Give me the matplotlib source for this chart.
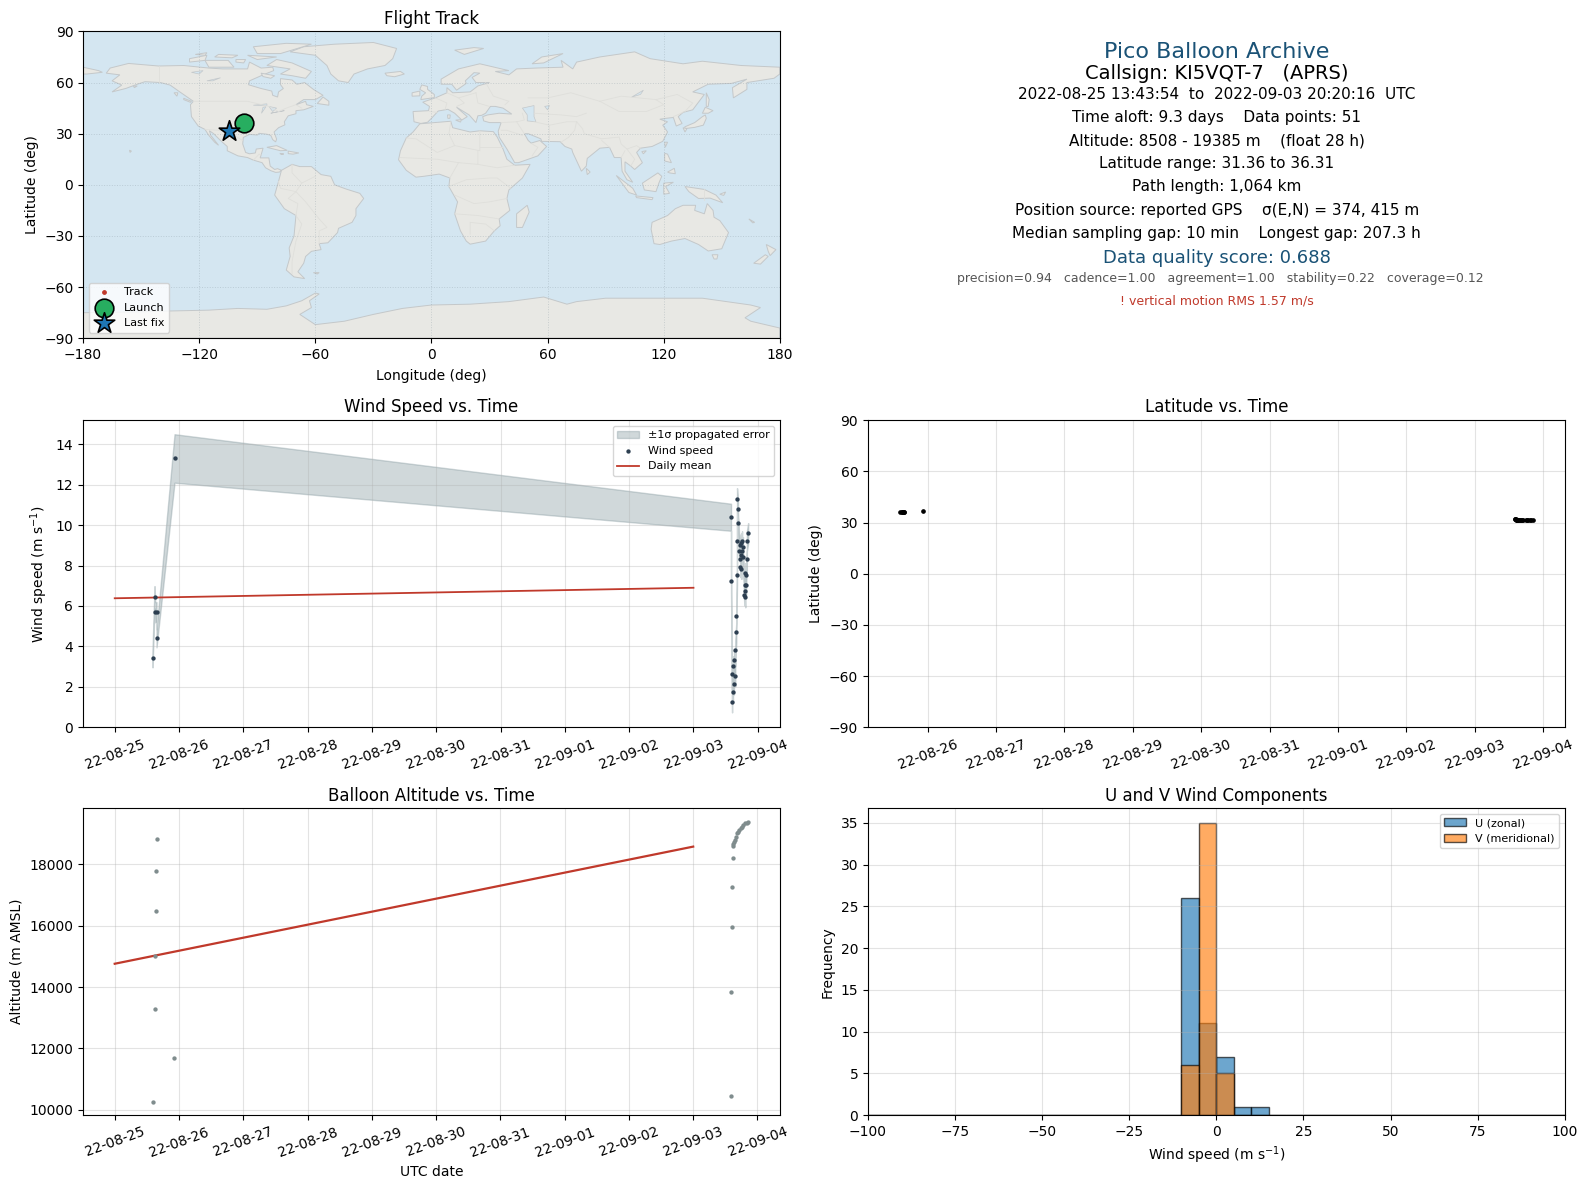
import numpy as np
import pandas as pd
import matplotlib
matplotlib.use('Agg')
import matplotlib.dates as mdates
from matplotlib import pyplot as plt

# wind samples, days since 2022-08-25 00:00
wind_days = [0.588, 0.619, 0.63, 0.65, 0.65, 0.93,
             9.584, 9.584, 9.6, 9.6, 9.615, 9.615, 9.63, 9.63, 9.65, 9.65, 9.666, 9.666,
             9.677, 9.677, 9.677, 9.692, 9.692, 9.715, 9.72, 9.73, 9.73, 9.745, 9.745, 9.745,
             9.755, 9.755, 9.77, 9.77, 9.79, 9.795, 9.805, 9.805, 9.805, 9.82, 9.82, 9.83, 9.83, 9.85]
wind_speed = [3.41, 6.43, 5.69, 5.69, 4.40, 13.3,
              10.39, 7.22, 1.23, 2.62, 1.73, 3.01, 2.12, 3.31, 2.52, 3.81, 4.70, 5.51,
              7.52, 9.20, 11.29, 10.79, 10.10, 8.71, 9.03, 8.31, 7.92, 9.10, 8.51, 7.84,
              9.20, 8.71, 8.91, 8.41, 6.53, 7.62, 6.43, 6.73, 7.03, 7.03, 7.52, 8.31, 9.20, 9.60]
wind_sigma = [0.45, 0.55, 0.5, 0.5, 0.45, 1.2,
              0.67, 0.6, 0.5, 0.5, 0.5, 0.5, 0.5, 0.5, 0.5, 0.5, 0.5, 0.5,
              0.5, 0.5, 0.54, 0.5, 0.5, 0.5, 0.5, 0.5, 0.5, 0.5, 0.5, 0.5,
              0.5, 0.5, 0.5, 0.5, 0.5, 0.5, 0.5, 0.5, 0.5, 0.5, 0.5, 0.5, 0.5, 0.5]
mean_days = [0, 9]
wind_mean = [6.38, 6.90]

# altitude and latitude samples
alt_days = [0.588, 0.619, 0.63, 0.64, 0.65, 0.655, 0.93,
            9.584, 9.584, 9.6, 9.6, 9.615, 9.62, 9.625, 9.64, 9.65, 9.665, 9.68, 9.69, 9.71,
            9.745, 9.76, 9.78, 9.81, 9.83, 9.855]
altitude = [10250, 13280, 15000, 16470, 17770, 18830, 11680,
            10442, 13829, 15949, 17254, 18199, 18600, 18650, 18741, 18797, 18900, 19015, 19067, 19123,
            19178, 19230, 19286, 19341, 19361, 19385]
latitude = [36.2, 36.25, 36.3, 36.31, 36.28, 36.2, 36.6,
            31.95, 31.9, 31.85, 31.8, 31.75, 31.72, 31.7, 31.65, 31.6, 31.55, 31.5, 31.48, 31.45,
            31.42, 31.4, 31.38, 31.37, 31.36, 31.36]
longitude = [-97.5, -97.4, -97.2, -97.0, -96.9, -96.8, -96.5,
             -104.0, -104.1, -104.2, -104.2, -104.3, -104.3, -104.3, -104.4, -104.4, -104.4, -104.5, -104.5, -104.5,
             -104.5, -104.5, -104.6, -104.6, -104.6, -104.6]
alt_mean = [14760, 18580]

# histogram counts, 5 m/s bins
hist_edges = list(range(-100, 105, 5))
u_bins = {-10: 26, -5: 11, 0: 7, 5: 1, 10: 1}
v_bins = {-10: 6, -5: 35, 0: 5}

info_lines = [
    ('Pico Balloon Archive', 16, '#1a5276', 51, 1201),
    ('Callsign: KI5VQT-7   (APRS)', 14, 'black', 73, 1201),
    ('2022-08-25 13:43:54  to  2022-09-03 20:20:16  UTC', 11, 'black', 93.5, 1201),
    ('Time aloft: 9.3 days    Data points: 51', 11, 'black', 116.5, 1201),
    ('Altitude: 8508 - 19385 m    (float 28 h)', 11, 'black', 139.5, 1202),
    ('Latitude range: 31.36 to 36.31', 11, 'black', 161.5, 1201),
    ('Path length: 1,064 km', 11, 'black', 184.5, 1201),
    ('Position source: reported GPS    σ(E,N) = 374, 415 m', 11, 'black', 207.5, 1202),
    ('Median sampling gap: 10 min    Longest gap: 207.3 h', 11, 'black', 230.5, 1201),
    ('Data quality score: 0.688', 13, '#1a5276', 255, 1202),
    ('precision=0.94   cadence=1.00   agreement=1.00   stability=0.22   coverage=0.12', 9, '#555555', 275, 1205),
    ('! vertical motion RMS 1.57 m/s', 9, '#c0392b', 297.5, 1202),
]

# rough world outlines (lon, lat)
land = [
    # north america
    [(-168,65.5),(-166,68.5),(-156.5,71.2),(-141,69.7),(-128,70),(-115,68.5),(-108,68),(-95,68),(-94,72),(-88,68.5),(-82,69),(-81.5,67),(-87,64.5),(-94,61),(-94.5,58.7),(-88,56.5),(-82.5,55),(-82,52.5),(-79.5,51.5),(-79,54.5),(-76.5,56.5),(-78,58.8),(-78,62.3),(-72,61.5),(-69.5,59),(-65.5,60),(-61,56),(-56,52.5),(-60,50),(-66,50),(-70,47),(-65,49),(-64.5,47),(-61,46),(-66,44),(-70,43.5),(-70,41.7),(-74,40.5),(-76,37),(-75.7,35.2),(-79,33.5),(-81.3,31),(-80,26.8),(-80.5,25.2),(-82,26.5),(-83,29),(-85,29.7),(-89,30.2),(-90,29.2),(-94,29.6),(-97.2,27.8),(-97.5,24),(-96,19),(-94,18.2),(-91,18.7),(-90.5,21),(-87,21.5),(-88,17.5),(-88.5,15.8),(-84,15.8),(-83.3,11),(-81,9),(-79.5,9.5),(-77.5,8.5),(-78.5,7.5),(-80.5,7.3),(-83,8.3),(-85.7,10),(-87.5,13),(-92,14.5),(-95,16),(-100,17),(-105.5,20),(-105.5,22.5),(-109,26),(-112.5,30),(-114.7,31.7),(-114,29),(-110,23.2),(-112,25),(-115,29),(-117,32.5),(-120.5,34.5),(-124,40),(-124.5,47),(-123,49),(-130,54.5),(-135,58.5),(-140,60),(-148,60.5),(-152,59),(-158,56.5),(-165,54.5),(-160,58.5),(-165,61),(-161,64.5)],
    # greenland and arctic islands
    [(-73,78),(-66,81),(-50,82.5),(-30,83.5),(-18,80),(-20,74),(-24,70),(-33,68),(-40,65),(-43,60),(-48,61),(-52,65),(-54,70),(-60,76)],
    [(-80,73.5),(-72,71.5),(-62,66.5),(-65,62.5),(-72,64),(-78,65),(-73,68),(-85,70)],
    [(-117,73),(-105,73),(-102,69),(-115,69)],
    [(-90,77),(-78,77),(-62,82.5),(-75,83),(-92,81)],
    [(-125,74),(-116,76),(-117,73),(-125,72)],
    [(-95,76),(-80,75),(-90,73.5)],
    [(-110,76.5),(-100,76),(-103,74.5),(-112,75)],
    [(-101,73.5),(-96,73.5),(-97,71.5),(-101,72)],
    [(-88,65.5),(-81,64),(-83,62.5),(-87,63.5)],
    [(-122,76.5),(-116,77.5),(-117,76)],
    [(-59,47.7),(-53,46.7),(-53,49),(-56,51.5)],
    [(-128,50.8),(-124,49),(-124.5,48.4),(-128,50)],
    [(-133,54),(-131,54),(-131.5,52)],
    [(-154,58),(-152,58),(-153.5,57)],
    [(-156,20.3),(-155,19.8),(-155.7,19)],
    # caribbean
    [(-85,22),(-80,23),(-74.5,20.2),(-78,20)],
    [(-74,19.8),(-68.5,18.7),(-71.5,18),(-74,18.3)],
    [(-78.3,18.4),(-76.3,18.1),(-77.5,17.8)],
    # south america
    [(-77.5,8.5),(-72,12),(-68,10.7),(-62,10.7),(-57,6),(-52,5),(-50,0),(-44,-2.5),(-37,-5),(-35,-8),(-39,-14),(-39,-18),(-41,-22),(-48,-25.5),(-48.5,-28),(-53.5,-34),(-58,-34.5),(-57,-38),(-62,-39),(-65,-42),(-66,-46),(-69,-51),(-65.5,-55),(-71,-54),(-75,-50),(-73,-42),(-73.5,-37),(-71,-30),(-70,-18),(-76,-14),(-81,-6),(-80,-2),(-79,2)],
    [(-61,-51.5),(-58,-51.5),(-59,-52.3)],
    # africa
    [(-6,35.8),(10,37.3),(11,33.5),(20,31),(25,31.7),(32,31.2),(34,28),(37,21),(39,15),(43,11.5),(51,12),(47,4),(40,-3),(39,-8),(40.5,-15),(35,-20),(35.5,-24),(32.5,-27),(28,-33),(20,-34.8),(18,-33),(15,-27),(12,-17),(13.5,-10),(9,-1),(9.5,4),(4,6.3),(-4,5),(-8,4.5),(-13,8.5),(-17,14.7),(-16,20),(-13,27.5),(-9.5,31)],
    [(49.5,-12),(50.5,-16),(47,-25),(44,-25),(44,-17)],
    # eurasia
    [(-9,37),(-9.5,43),(-1.5,43.5),(-1,46),(-4.5,48.5),(2,51),(8,54),(8,57),(11,54),(20,54.5),(24,58),(30,60),(23,60),(21,63),(25,65.5),(22,65.8),(17.5,61),(18,59.5),(13,55.5),(10.5,59),(5,59),(5,62),(14,68),(25,71),(40,67),(33,66.5),(40,64.5),(44,68),(54,68.5),(68,69),(67,73),(73,68),(75,72),(87,75),(105,78),(113,74),(130,71),(140,72.5),(160,70),(180,69),(180,65),(177,62.5),(163,60),(163,56),(156,51),(155.5,57),(163,62),(155,59.5),(143,59),(135,54.5),(141,53),(135,44),(130,42.5),(127.5,40),(129.5,36),(126.5,34.5),(125,39.5),(121,39),(118,38.5),(122,37),(119.5,35),(122,31),(119.5,25.5),(114,22.5),(108,21.5),(106,19),(109,13),(105,9),(103,11),(100,13.5),(100,8),(104,1.5),(101,3),(98.5,8),(98,16),(94.5,16),(92,22),(87,21.5),(80.5,15.5),(80,11),(77.5,8),(73,19),(72.5,21),(69,22.5),(66.5,25.3),(57,25.5),(56.5,27),(50,30),(48,30),(50,26),(51.5,24.5),(56,26),(59.5,22.5),(55,17),(45,13),(43,13),(39,21),(35,28),(34.5,31.5),(36,36.5),(30,36.5),(27,37.5),(26.5,40),(29,41),(35,42),(41.5,41.5),(37,45),(33,46),(30.5,46),(28,42),(26,40.8),(24,40.5),(23,36.5),(19.5,41),(13,45.5),(18.5,40),(15.7,38),(12,42),(8.5,44.3),(3.5,43.3),(0,39),(-2,36.7),(-5.5,36)],
    [(-180,69),(-172,67),(-170,66),(-178,65),(-180,65)],
    # european and asian islands
    [(-5.5,50),(1.5,51.2),(1.5,53),(-2,56),(-2,57.7),(-5,58.6),(-6,56),(-3,54),(-5,52)],
    [(-10,52),(-6,52.2),(-6,55),(-10,54)],
    [(-24,65.5),(-16,66.5),(-14,65),(-19,63.4),(-23,64)],
    [(12,79),(22,80.5),(27,80),(17,76.5)],
    [(52,71),(57,75),(68,77),(58,71.5)],
    [(12.5,38),(15.5,38.2),(15,36.8)],
    [(8.3,41),(9.7,41),(9.5,39),(8.5,39)],
    [(130.9,34),(136,36.5),(140,40),(141.5,41),(142,39),(140.5,35),(136,33.7),(131,33)],
    [(140,42),(141.5,45.5),(145.5,43.5),(143,42)],
    [(130,33.5),(132,33),(131,31)],
    [(142,46),(142,54),(143.5,50),(143,46)],
    [(120.5,25),(122,25),(120.8,22)],
    [(108.7,19.5),(111,20),(109.5,18.2)],
    [(80,9.7),(82,7.5),(80.5,6)],
    [(120.5,18.5),(122,18),(124,13),(120.5,14)],
    [(122,7.5),(125.5,9.7),(126,6.5),(123,7)],
    [(95.5,5.5),(104,-2),(106,-6),(102,-4.5)],
    [(109,1),(117,7),(119,5),(117.5,1),(116,-4),(110,-3)],
    [(105.5,-6.5),(114.5,-7.5),(114,-8.7),(106,-7.5)],
    [(120,1),(125,1.5),(121,-1),(123,-5),(120,-5.5)],
    [(131,-1),(141,-2.7),(147,-6),(150.5,-10.5),(144,-7.8),(138,-8),(133,-4)],
    [(149,-5.5),(152,-4.2),(151,-6.2)],
    # australia and new zealand
    [(114,-22),(113.5,-26),(115,-34.5),(118,-35),(124,-33),(131,-31.5),(138,-35),(143,-38.8),(150,-37.5),(153.5,-28),(149,-21),(146,-19),(145.5,-15),(142.5,-11),(141,-17),(136,-15),(136.5,-12),(130,-12),(126,-14),(122,-18)],
    [(145,-41),(148,-41),(147.5,-43.5),(146,-43.5)],
    [(173,-35),(178,-38),(175,-41.5),(174,-39)],
    [(172.5,-41),(174,-42),(170,-46.5),(166.5,-46)],
    [(164,-20),(167,-22),(166,-22.3)],
    # antarctica
    [(-180,-90),(-180,-75),(-150,-74.5),(-135,-74),(-115,-73.5),(-100,-72.5),(-85,-73),(-75,-71),(-67,-68),(-60,-63.5),(-58,-64),(-63,-68),(-62,-72),(-68,-76),(-60,-82),(-45,-80),(-30,-76),(-15,-72.5),(0,-70.5),(20,-70),(40,-68.5),(58,-65.8),(70,-70),(75,-68.5),(90,-66.5),(120,-66.5),(140,-66.5),(165,-70.5),(170,-72),(162,-78),(165,-80),(180,-84),(180,-90)],
]
waters = [
    [(47,45),(53,46.5),(53,40),(54,37),(49.5,37.5),(49.5,41)],
    [(-92,46.7),(-85,47.5),(-85,46.5)],
    [(-87.8,42),(-85.5,45.8),(-87,45.5)],
    [(-84,46),(-80,45),(-82,43)],
    [(-83,42),(-76,43.5),(-79,43)],
    [(-124,66),(-118,67),(-120,65)],
    [(-116,61),(-109,62.8),(-113,61)],
    [(58.5,46),(61,46.5),(60,44)],
    [(103.5,51.5),(109.5,55.5),(108,53)],
]
borders = [
    [(-141,69.7),(-141,60)],
    [(-123,49),(-95,49),(-84,46),(-79,43),(-75,45),(-70,47),(-67,45)],
    [(-117,32.5),(-106,31.7),(-97.5,26)],
    [(-92,14.5),(-89,18),(-88,17.5)],
    [(-70,-18),(-69,-11),(-74,-8),(-70,-4),(-78,-2),(-79,2)],
    [(-70,-18),(-67,-23),(-70,-33),(-72,-45),(-72,-52)],
    [(-58,-34.5),(-58,-27),(-54,-25),(-58,-20),(-65,-10),(-70,-4),(-67,1),(-60,5)],
    [(-72,12),(-72,7),(-67,1)],
    [(10,37),(9,30),(12,23),(25,20),(25,31.7)],
    [(25,22),(37,22)],
    [(-13,27.5),(-8,27),(3,19),(12,23)],
    [(-16,16),(3,15),(14,13),(24,12),(24,20)],
    [(9.5,4),(14,13)],
    [(24,12),(34,10),(43,11.5)],
    [(9,-1),(18,3),(30,4),(34,4),(41,-2)],
    [(12,-6),(22,-11),(30,-10),(39,-8)],
    [(12,-17),(24,-18),(35,-20)],
    [(20,-29),(20,-22),(28,-23),(32.5,-27)],
    [(-1,43),(3,42.5)],
    [(2,51),(8,48),(7,44)],
    [(8,54),(14,51),(23,54)],
    [(14,51),(17,48),(13,46)],
    [(23,54),(24,48),(30,46)],
    [(28,60),(32,52),(40,49),(38,47)],
    [(47,42),(48,38),(44,37),(36,36.5)],
    [(44,37),(48,30)],
    [(36,32),(39,32),(47,29)],
    [(52,17),(55,22),(52,24)],
    [(61,25),(61,35),(70,37),(75,37)],
    [(61,35),(53,37)],
    [(53,42),(67,41),(75,40),(80,42)],
    [(50,51),(60,51),(72,54),(87,49)],
    [(87,49),(98,52),(116,50),(120,47),(111,43),(97,43),(87,49)],
    [(116,50),(127,53),(135,48),(131,43)],
    [(75,37),(78,33),(79,30),(88,27),(97,28),(98,24),(101,21),(106,23),(108,21.5)],
    [(67,25),(71,28),(74,32),(75,37)],
    [(92,22),(88,26)],
    [(100,20),(98,16)],
    [(101,21),(105,15),(103,11)],
    [(125,40),(130,42.5)],
    [(141,-2.7),(141,-9)],
]

ocean_color = '#d4e6f1'
land_color = '#e8e8e4'
coast_color = '#c4c8ca'
border_color = '#dfdfdb'
W, H = 1568.0, 1174.0


def place(fig, left, top, right, bottom):
    return fig.add_axes([left / W, 1 - bottom / H, (right - left) / W, (bottom - top) / H])


def to_dates(days):
    return pd.Timestamp('2022-08-25') + pd.to_timedelta(days, unit='D')


def date_axis(ax):
    ax.xaxis.set_major_locator(mdates.DayLocator())
    ax.xaxis.set_major_formatter(mdates.DateFormatter('%y-%m-%d'))
    ax.tick_params(axis='x', rotation=20)
    ax.grid(True, color='#b0b0b0', alpha=0.35, lw=0.8)


fig = plt.figure(figsize=(15.88, 11.89), dpi=100)

# flight track
ax = place(fig, 82, 31, 770, 334)
ax.set_facecolor(ocean_color)
for poly in land:
    ax.fill(*zip(*poly), facecolor=land_color, edgecolor=coast_color, lw=0.7, zorder=1)
for poly in waters:
    ax.fill(*zip(*poly), facecolor=ocean_color, edgecolor=coast_color, lw=0.5, zorder=1.1)
for line in borders:
    ax.plot(*zip(*line), color=border_color, lw=0.6, zorder=1.2)
ax.scatter(longitude, latitude, s=6, color='#c0392b', zorder=3, label='Track')
ax.scatter(longitude[0] + 0.7, latitude[3], s=180, color='#27ae60', edgecolor='black', lw=1.2, zorder=4, label='Launch')
ax.scatter(longitude[-1], latitude[-1], s=240, marker='*', color='#1f77b4', edgecolor='black', lw=1.2, zorder=5, label='Last fix')
ax.set_xlim(-180, 180)
ax.set_ylim(-90, 90)
ax.set_xticks(range(-180, 181, 60))
ax.set_yticks(range(-90, 91, 30))
ax.set_axisbelow('line')
ax.grid(True, color='#8a9aa3', alpha=0.35, lw=0.7, ls=':')
ax.set_title('Flight Track', fontsize=12, pad=5)
ax.set_xlabel('Longitude (deg)', labelpad=5)
ax.set_ylabel('Latitude (deg)')
ax.legend(loc='lower left', fontsize=8, framealpha=0.8)

# summary text
for text, size, color, y, x in info_lines:
    fig.text(x / W, 1 - y / H, text, fontsize=size, color=color, ha='center', va='center')

# wind speed
ax = place(fig, 82, 415, 770, 718)
speed = np.array(wind_speed)
sigma = np.array(wind_sigma)
ax.fill_between(to_dates(wind_days), speed - sigma, speed + sigma, color='#7a9096', alpha=0.35, lw=1.0, label='±1σ propagated error')
ax.scatter(to_dates(wind_days), speed, s=4.5, color='#2c3e50', label='Wind speed', zorder=3)
ax.plot(to_dates(mean_days), wind_mean, color='#c0392b', lw=1.3, label='Daily mean')
ax.set_ylim(bottom=0)
date_axis(ax)
ax.set_title('Wind Speed vs. Time', fontsize=12)
ax.set_ylabel('Wind speed (m s$^{-1}$)')
ax.legend(loc='upper right', fontsize=8)

# latitude
ax = place(fig, 857, 415, 1545, 718)
ax.scatter(to_dates(alt_days), latitude, s=5.5, color='black', zorder=3)
ax.set_ylim(-90, 90)
ax.set_yticks(range(-90, 91, 30))
date_axis(ax)
ax.set_title('Latitude vs. Time', fontsize=12)
ax.set_ylabel('Latitude (deg)')

# altitude
ax = place(fig, 82, 798, 770, 1101)
ax.scatter(to_dates(alt_days), altitude, s=4.5, color='#7f8c8d', zorder=3)
ax.plot(to_dates(mean_days), alt_mean, color='#c0392b', lw=1.6)
ax.set_ylim(9825, 19833)
date_axis(ax)
ax.set_title('Balloon Altitude vs. Time', fontsize=12, pad=5)
ax.set_xlabel('UTC date')
ax.set_ylabel('Altitude (m AMSL)')

# wind components
ax = place(fig, 857, 798, 1545, 1101)
left_edges = np.array(hist_edges[:-1])
u_counts = [u_bins.get(int(e), 0) for e in left_edges]
v_counts = [v_bins.get(int(e), 0) for e in left_edges]
ax.bar(left_edges, u_counts, width=5, align='edge', color='tab:blue', edgecolor='black', alpha=0.65, label='U (zonal)')
ax.bar(left_edges, v_counts, width=5, align='edge', color='tab:orange', edgecolor='black', alpha=0.65, label='V (meridional)')
ax.set_xlim(-100, 100)
ax.grid(True, color='#b0b0b0', alpha=0.35, lw=0.8)
ax.set_title('U and V Wind Components', fontsize=12, pad=5)
ax.set_xlabel('Wind speed (m s$^{-1}$)')
ax.set_ylabel('Frequency')
ax.legend(loc='upper right', fontsize=8)

fig.savefig('out.png', dpi=100)
